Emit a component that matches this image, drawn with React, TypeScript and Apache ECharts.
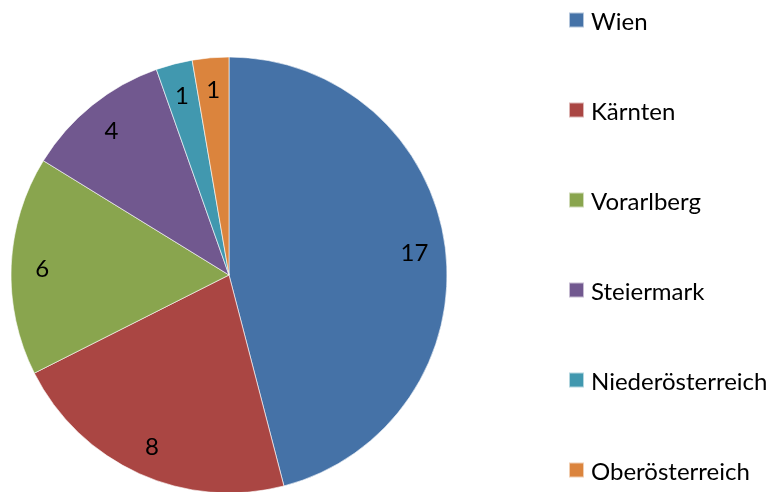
import React, { useEffect, useRef } from "react";
import * as echarts from "echarts";

const categories = ["Wien", "Kärnten", "Vorarlberg", "Steiermark", "Niederösterreich", "Oberösterreich"];
const values = [17, 8, 6, 4, 1, 1];
const colors = ["#4572A7", "#AA4643", "#89A54E", "#71588F", "#4198AF", "#DB843D"];

export default function App() {
  const ref = useRef<HTMLDivElement>(null);
  useEffect(() => {
    if (!ref.current) return;
    const chart = echarts.init(ref.current, null, { renderer: "svg" });
    const data = categories.map((name, i) => ({ name, value: values[i] }));
    const font = "Lato, 'Open Sans', sans-serif";
    chart.setOption({
      animation: false,
      color: colors,
      legend: {
        orient: "vertical",
        left: 568,
        top: 8,
        padding: 0,
        itemWidth: 15,
        itemHeight: 15,
        itemGap: 66,
        icon: "rect",
        data: categories,
        textStyle: { fontFamily: font, fontSize: 24, lineHeight: 24, color: "#000", padding: [0, 0, 0, 2] },
      },
      series: [
        {
          type: "pie",
          center: [229, 275],
          radius: [0, 218],
          startAngle: 90,
          clockwise: true,
          label: { show: false },
          labelLine: { show: false },
          itemStyle: { borderColor: "rgba(255,255,255,0.6)", borderWidth: 1 },
          emphasis: { disabled: true },
          data,
        },
        {
          type: "pie",
          center: [229, 275],
          radius: [150, 218],
          startAngle: 90,
          clockwise: true,
          silent: true,
          legendHoverLink: false,
          itemStyle: { color: "rgba(0,0,0,0)", borderWidth: 0 },
          label: {
            show: true,
            position: "inside",
            formatter: "{c}",
            fontFamily: font,
            fontSize: 24,
            color: "#000",
          },
          labelLine: { show: false },
          emphasis: { disabled: true },
          data,
        },
      ],
    });
    return () => chart.dispose();
  }, []);
  return <div ref={ref} style={{ position: "fixed", left: 0, top: 0, width: 780, height: 492 }} />;
}
